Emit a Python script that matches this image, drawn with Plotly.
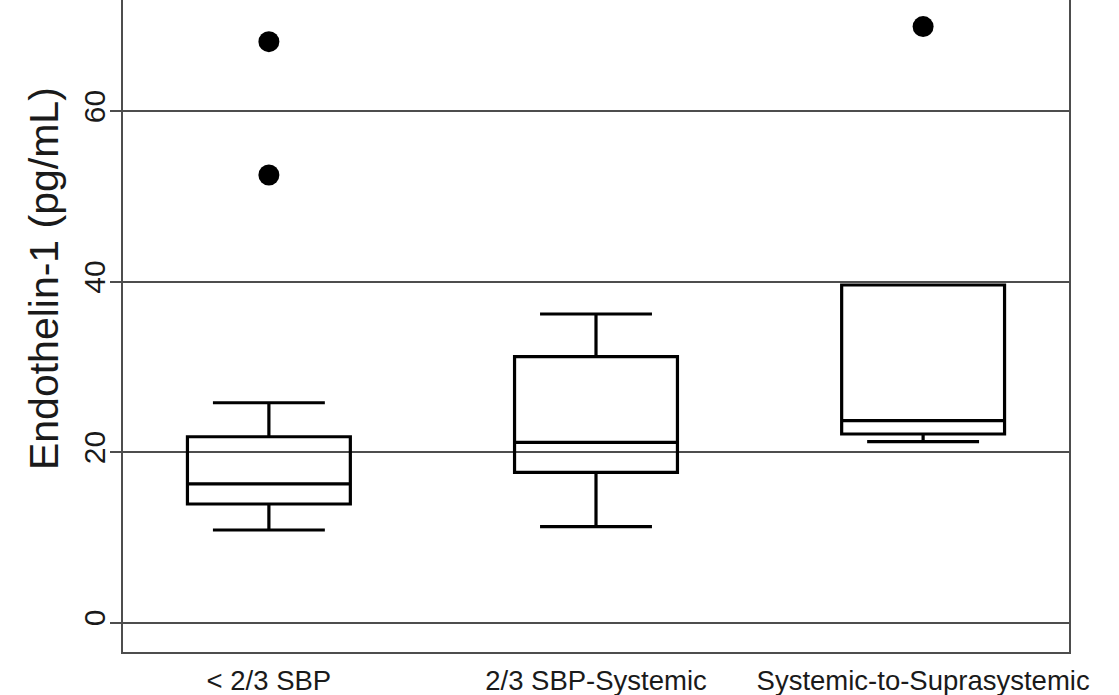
import plotly.graph_objects as go

# Endothelin-1 levels by pulmonary artery pressure group
categories = ["< 2/3 SBP", "2/3 SBP-Systemic", "Systemic-to-Suprasystemic"]
lower_whisker = [10.85, 11.24, 21.21]
q1_values = [13.9, 17.62, 22.11]
median_values = [16.25, 21.14, 23.67]
q3_values = [21.79, 31.18, 39.59]
upper_whisker = [25.78, 36.19, 39.59]

# individual outlying observations (group index, value)
outlier_group = [0, 0, 2]
outlier_values = [68.13, 52.49, 69.9]

y_ticks = [0, 20, 40, 60]

positions = list(range(len(categories)))

fig = go.Figure()

fig.add_trace(go.Box(
    x=positions,
    q1=q1_values,
    median=median_values,
    q3=q3_values,
    lowerfence=lower_whisker,
    upperfence=upper_whisker,
    width=0.498,
    whiskerwidth=0.687,
    fillcolor="rgba(0,0,0,0)",
    line=dict(color="black", width=3.2),
    boxpoints=False,
    showlegend=False,
    hoverinfo="skip",
))

fig.add_trace(go.Scatter(
    x=[positions[g] for g in outlier_group],
    y=outlier_values,
    mode="markers",
    marker=dict(color="black", size=21),
    showlegend=False,
    hoverinfo="skip",
))

axis_gray = "#4d4d4d"

fig.update_layout(
    width=1119,
    height=695,
    margin=dict(l=123, r=50, t=0, b=43),
    paper_bgcolor="white",
    plot_bgcolor="white",
    font=dict(family="Liberation Sans, Arial, sans-serif", color="#1a1a1a"),
    xaxis=dict(
        range=[-0.446, 2.446],
        tickmode="array",
        tickvals=positions,
        ticktext=categories,
        tickfont=dict(size=27.5),
        showgrid=False,
        zeroline=False,
        showline=True,
        linecolor=axis_gray,
        linewidth=2,
        ticks="",
        ticklabelstandoff=3,
    ),
    yaxis=dict(
        range=[-3.46, 73.02],
        tickmode="array",
        tickvals=y_ticks,
        ticktext=[str(v) for v in y_ticks],
        tickangle=-90,
        tickfont=dict(size=30),
        showgrid=True,
        gridcolor=axis_gray,
        gridwidth=1.5,
        zeroline=False,
        showline=True,
        mirror=True,
        linecolor=axis_gray,
        linewidth=2,
        ticks="outside",
        ticklen=11,
        tickwidth=1.5,
        tickcolor=axis_gray,
        ticklabelstandoff=-7,
    ),
    annotations=[dict(
        text="Endothelin-1 (pg/mL)",
        xref="paper", yref="paper",
        x=-0.0835, y=0.572,
        xanchor="center", yanchor="middle",
        textangle=-90,
        showarrow=False,
        font=dict(size=41, color="#1a1a1a"),
    )],
)

fig.write_html("out.html")
